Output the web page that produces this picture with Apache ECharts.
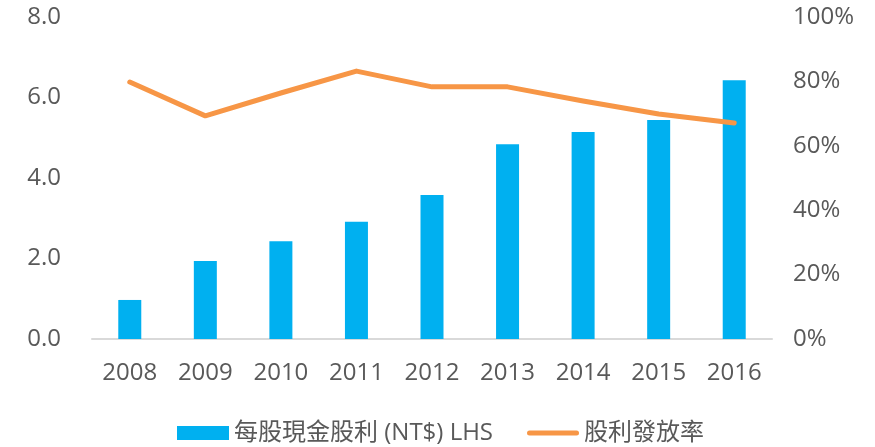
<!DOCTYPE html>
<html style="height: 100%">
<head>
  <meta charset="utf-8">
  <title>demo</title>
</head>
<body style="height: 100%; margin: 0">
<div id="container" style="height: 447px; width: 875px; background: #fff"></div>
<script src="https://cdn.jsdelivr.net/npm/echarts@6/dist/echarts.min.js"></script>
<script type="text/javascript">
  var years = ['2008', '2009', '2010', '2011', '2012', '2013', '2014', '2015', '2016'];
  var dividend = [0.97, 1.94, 2.43, 2.91, 3.58, 4.84, 5.14, 5.44, 6.43];
  var payoutRatio = [79.8, 69.3, 76.4, 83.2, 78.3, 78.3, 73.9, 69.9, 67.1];
  var barName = '每股現金股利 (NT$) LHS';
  var lineName = '股利發放率';

  var font = '"Open Sans", "Noto Sans CJK TC", sans-serif';
  var textColor = '#595959';

  var myChart = echarts.init(document.getElementById('container'));
  var option = {
    animation: false,
    textStyle: { fontFamily: font },
    grid: { left: 92, right: 103, top: 17, bottom: 108 },
    legend: {
      left: 172,
      top: 416,
      itemGap: 34,
      itemWidth: 52,
      itemHeight: 14,
      textStyle: { color: textColor, fontSize: 24, fontFamily: font },
      data: [
        { name: barName, icon: 'rect' },
        {
          name: lineName,
          icon: 'path://M2.5,0 L49.5,0 A2.5,2.5 0 0 1 49.5,5 L2.5,5 A2.5,2.5 0 0 1 2.5,0 Z'
        }
      ]
    },
    xAxis: {
      type: 'category',
      data: years,
      axisLine: { lineStyle: { color: '#d9d9d9', width: 2 } },
      axisTick: { show: false },
      axisLabel: { color: textColor, fontSize: 24, margin: 22 }
    },
    yAxis: [
      {
        type: 'value',
        min: 0, max: 8, interval: 2,
        splitLine: { show: false },
        axisLine: { show: false },
        axisLabel: {
          color: textColor, fontSize: 24, margin: 31,
          formatter: function (v) { return v.toFixed(1); }
        }
      },
      {
        type: 'value',
        min: 0, max: 100, interval: 20,
        splitLine: { show: false },
        axisLine: { show: false },
        axisLabel: {
          color: textColor, fontSize: 24, margin: 21,
          formatter: '{value}%'
        }
      }
    ],
    series: [
      {
        name: barName,
        type: 'bar',
        data: dividend,
        barWidth: 23,
        itemStyle: { color: '#00b0f0' }
      },
      {
        name: lineName,
        type: 'line',
        yAxisIndex: 1,
        data: payoutRatio,
        symbol: 'none',
        lineStyle: { color: '#f79646', width: 5, cap: 'round', join: 'round' },
        itemStyle: { color: '#f79646' }
      }
    ]
  };
  myChart.setOption(option);
</script>
</body>
</html>
